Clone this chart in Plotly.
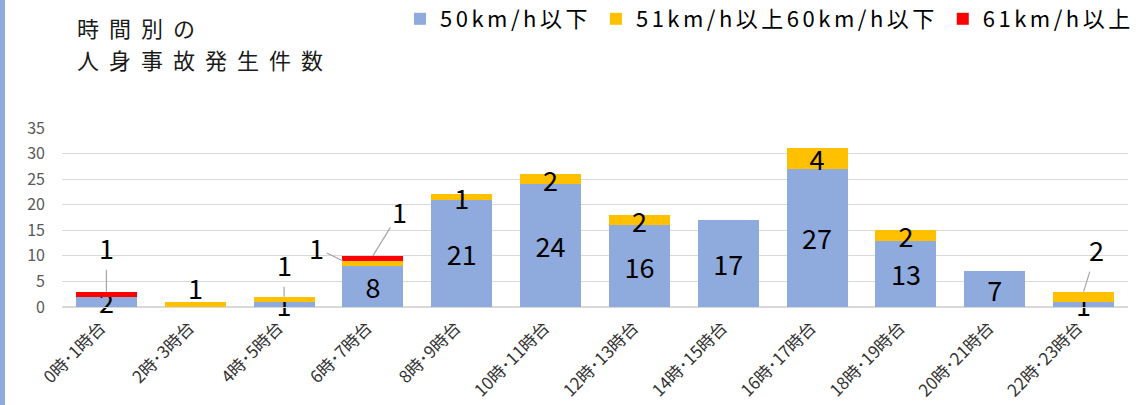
import plotly.graph_objects as go

categories = ["0時･1時台", "2時･3時台", "4時･5時台", "6時･7時台", "8時･9時台", "10時･11時台",
              "12時･13時台", "14時･15時台", "16時･17時台", "18時･19時台", "20時･21時台", "22時･23時台"]
speed_le50 = [2, 0, 1, 8, 21, 24, 16, 17, 27, 13, 7, 1]
speed_51_60 = [0, 1, 1, 1, 1, 2, 2, 0, 4, 2, 0, 2]
speed_ge61 = [1, 0, 0, 1, 0, 0, 0, 0, 0, 0, 0, 0]
series_names = ["50km/h以下", "51km/h以上60km/h以下", "61km/h以上"]
y_ticks = [0, 5, 10, 15, 20, 25, 30, 35]
title_lines = ["時間別の", "人身事故発生件数"]

# labels placed outside the segment: (series, category, ax, ay, xshift, yshift, with leader line)
offset_labels = [
    (2, 0, 0, -44, 0, 0, True),
    (1, 1, 0, 0, 0, 14, False),
    (1, 2, 0, -32, 0, 0, True),
    (1, 3, -26, -13, -30, 0, True),
    (2, 3, 27, -44, 0, 0, True),
    (1, 11, 13, -42, 0, 0, True),
]
offset_set = {(o[0], o[1]) for o in offset_labels}

colors = ["#8faadc", "#ffc000", "#ff0000"]
series = [speed_le50, speed_51_60, speed_ge61]
FONT = "Noto Sans CJK JP"
L, R, T, B, W, H = 62, 17, 128, 98, 1145, 405
PW, PH = W - L - R, H - T - B


def px(xp):
    return (xp - L) / PW


def py(yp):
    return (H - B - yp) / PH


fig = go.Figure()
for si, (name, vals, col) in enumerate(zip(series_names, series, colors)):
    txt = [("" if (v == 0 or (si, ci) in offset_set) else str(v)) for ci, v in enumerate(vals)]
    fig.add_trace(go.Bar(
        x=categories, y=vals, name=f'<span style="letter-spacing:3.5px">{name}</span>',
        marker=dict(color=col, line=dict(width=0)),
        text=txt, textposition="inside", insidetextanchor="middle", constraintext="none",
        textangle=0, insidetextfont=dict(size=27, color="black", family=FONT),
        cliponaxis=False, hoverinfo="x+y",
    ))

annotations = []
for si, ci, ax, ay, xs, ys, line in offset_labels:
    base = sum(series[k][ci] for k in range(si))
    top = base + series[si][ci]
    annotations.append(dict(
        x=categories[ci], y=top, xref="x", yref="y", text=str(series[si][ci]),
        showarrow=line, arrowhead=0, arrowwidth=1.2, arrowcolor="#a6a6a6",
        ax=ax, ay=ay, startstandoff=1, standoff=0, xshift=xs, yshift=ys,
        yanchor="middle" if not line else "auto",
        font=dict(size=27, color="black", family=FONT),
    ))

for text, yc in zip(title_lines, [27, 59]):
    annotations.append(dict(
        text=f'<span style="letter-spacing:10px">{text}</span>',
        xref="paper", yref="paper", x=px(75), y=py(yc),
        xanchor="left", yanchor="middle", showarrow=False, align="left",
        font=dict(size=22, color="#1a1a1a", family=FONT),
    ))

fig.update_layout(
    width=W, height=H,
    margin=dict(l=L, r=R, t=T, b=B, autoexpand=False),
    paper_bgcolor="white", plot_bgcolor="white",
    barmode="stack", bargap=0.313,
    font=dict(family=FONT, color="#404040"),
    showlegend=True,
    legend=dict(orientation="h", x=px(400), xanchor="left", y=py(19), yanchor="middle",
                font=dict(size=22, color="black", family=FONT),
                bgcolor="rgba(0,0,0,0)", traceorder="normal"),
    annotations=annotations,
    shapes=[dict(type="rect", xref="paper", yref="paper",
                 x0=px(0), x1=px(5), y0=py(H), y1=py(0),
                 fillcolor="#8faadc", line=dict(width=0), layer="above")],
)
fig.update_xaxes(tickangle=-45, tickfont=dict(size=17, color="#333333", family=FONT),
                 showline=True, linecolor="#d9d9d9", linewidth=1, ticks="", automargin=False,
                 ticklabelstandoff=3, ticklabelshift=-6)
fig.update_yaxes(range=[0, 35], tickvals=y_ticks, tickfont=dict(size=16, color="#595959", family=FONT),
                 showgrid=True, gridcolor="#d9d9d9", gridwidth=1, zeroline=True, zerolinecolor="#d9d9d9",
                 showline=False, ticks="", ticklabelstandoff=16, automargin=False)

fig.write_html("out.html", config={"displayModeBar": False},
               post_script="document.body.style.margin='0px';")
